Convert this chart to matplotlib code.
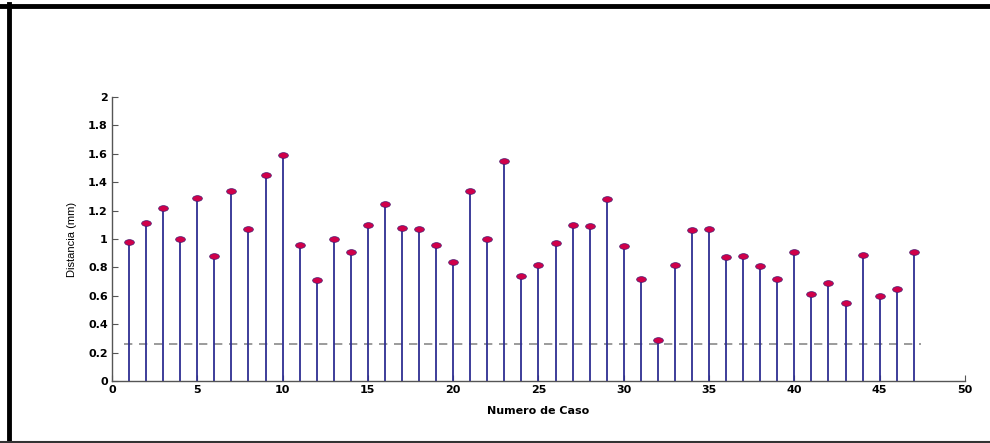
import numpy as np
import matplotlib
matplotlib.use("Agg")
import matplotlib.pyplot as plt
from matplotlib.lines import Line2D
from matplotlib.path import Path
from matplotlib.transforms import Affine2D

# numero de caso y distancia medida (mm)
casos = list(range(1, 48))
distancia = [0.98, 1.11, 1.22, 1.00, 1.29, 0.88, 1.34, 1.07, 1.45, 1.59,
             0.96, 0.71, 1.00, 0.91, 1.10, 1.25, 1.08, 1.07, 0.96, 0.84,
             1.34, 1.00, 1.55, 0.74, 0.82, 0.97, 1.10, 1.09, 1.28, 0.95,
             0.72, 0.29, 0.82, 1.06, 1.07, 0.87, 0.88, 0.81, 0.72, 0.91,
             0.61, 0.69, 0.55, 0.89, 0.60, 0.65, 0.91]
umbral = 0.26
xticks = [0, 5, 10, 15, 20, 25, 30, 35, 40, 45, 50]
yticks = [0, 0.2, 0.4, 0.6, 0.8, 1, 1.2, 1.4, 1.6, 1.8, 2]
ytick_labels = ["0", "0.2", "0.4", "0.6", "0.8", "1", "1.2", "1.4", "1.6", "1.8", "2"]

fig = plt.figure(figsize=(9.9, 4.43), dpi=100)
ax = fig.add_axes([0.1131, 0.140, 0.8616, 0.641])

# marcador eliptico (la imagen original esta estirada)
elipse = Path.unit_circle().transformed(Affine2D().scale(1.7, 1.0))

# umbral discontinuo
ax.plot([casos[0] - 0.3, casos[-1] + 0.4], [umbral, umbral], color="#8a8a8a",
        linestyle=(0, (5, 4)), linewidth=1.2, zorder=1)

# stems
ax.vlines(casos, 0, distancia, color="#2e2e92", linewidth=1.3, zorder=2)
ax.plot(casos, distancia, linestyle="none", marker=elipse, markersize=7,
        markerfacecolor="#d0004a", markeredgecolor="#4a1a70",
        markeredgewidth=0.5, zorder=3)

ax.set_xlim(0, 50)
ax.set_ylim(0, 2)
ax.set_xticks(xticks)
ax.set_yticks(yticks)
ax.set_yticklabels(ytick_labels)
ax.spines["top"].set_visible(False)
ax.spines["right"].set_visible(False)
for s in ("left", "bottom"):
    ax.spines[s].set_color("#555555")
    ax.spines[s].set_linewidth(1.0)
ax.tick_params(direction="in", length=4, width=0.8, color="#555555",
               labelsize=8, pad=3)
for lbl in ax.get_xticklabels() + ax.get_yticklabels():
    lbl.set_fontweight("bold")

ax.set_xlabel("Numero de Caso", fontsize=8, fontweight="bold", labelpad=8)
ax.set_ylabel("Distancia (mm)", fontsize=8,
              family=["Liberation Sans Narrow", "Liberation Sans", "DejaVu Sans"],
              labelpad=8)

# marco negro de la imagen
fig.add_artist(Line2D([0, 1], [1 - 6 / 443, 1 - 6 / 443], color="black",
                      linewidth=3.5, transform=fig.transFigure))
fig.add_artist(Line2D([8.5 / 990, 8.5 / 990], [0, 1 - 4 / 443], color="black",
                      linewidth=3.5, transform=fig.transFigure))
fig.add_artist(Line2D([0, 1], [1.5 / 443, 1.5 / 443], color="#333333",
                      linewidth=1.5, transform=fig.transFigure))

fig.savefig("out.png", dpi=100)
